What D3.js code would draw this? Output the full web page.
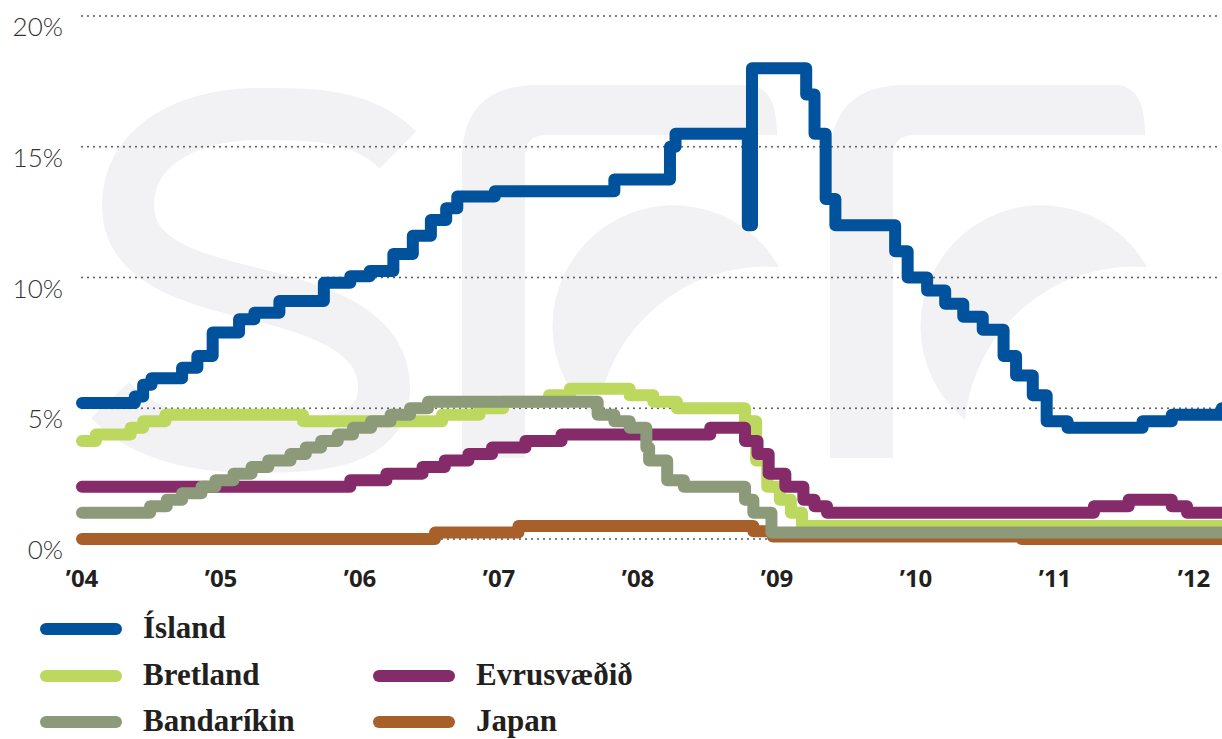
<!DOCTYPE html>
<html>
<head>
<meta charset="utf-8">
<script src="https://cdn.jsdelivr.net/npm/d3@7"></script>
<style>
  html, body { margin: 0; padding: 0; background: #fff; }
  svg { display: block; }
</style>
</head>
<body>
<svg id="chart" width="1222" height="739"></svg>
<script>
// ---------- DATA (decimal year of each rate change, rate in %) ----------
const endYear = 2012.25;

const islandDates = [2004.00, 2004.38, 2004.44, 2004.50, 2004.72, 2004.83, 2004.94, 2005.13, 2005.24, 2005.42, 2005.74, 2005.93, 2006.07, 2006.24, 2006.38, 2006.51, 2006.62, 2006.70, 2006.97, 2007.83, 2008.23, 2008.27, 2008.79, 2008.82, 2009.21, 2009.27, 2009.35, 2009.42, 2009.85, 2009.94, 2010.08, 2010.21, 2010.34, 2010.48, 2010.63, 2010.72, 2010.84, 2010.94, 2011.09, 2011.63, 2011.84, 2012.20];
const islandRates = [5.2, 5.45, 5.9, 6.15, 6.55, 7.0, 7.9, 8.4, 8.65, 9.1, 9.8, 10.05, 10.25, 10.9, 11.6, 12.2, 12.65, 13.1, 13.3, 13.75, 15.0, 15.5, 12.0, 18.0, 17.0, 15.5, 13.0, 12.0, 11.0, 10.0, 9.5, 9.0, 8.5, 8.0, 7.0, 6.25, 5.5, 4.5, 4.25, 4.5, 4.75, 5.0];

const bretlandDates = [2004.00, 2004.10, 2004.35, 2004.44, 2004.60, 2005.59, 2006.59, 2006.86, 2007.03, 2007.36, 2007.51, 2007.94, 2008.11, 2008.28, 2008.77, 2008.85, 2008.93, 2009.02, 2009.10, 2009.18];
const bretlandRates = [3.75, 4.0, 4.25, 4.5, 4.75, 4.5, 4.75, 5.0, 5.25, 5.5, 5.75, 5.5, 5.25, 5.0, 4.5, 3.0, 2.0, 1.5, 1.0, 0.5];

const evruDates = [2004.00, 2005.93, 2006.19, 2006.45, 2006.61, 2006.78, 2006.95, 2007.19, 2007.45, 2008.52, 2008.77, 2008.86, 2008.94, 2009.06, 2009.19, 2009.27, 2009.36, 2011.28, 2011.53, 2011.84, 2011.95];
const evruRates = [2.0, 2.25, 2.5, 2.75, 3.0, 3.25, 3.5, 3.75, 4.0, 4.25, 3.75, 3.25, 2.5, 2.0, 1.5, 1.25, 1.0, 1.25, 1.5, 1.25, 1.0];

const usaDates = [2004.00, 2004.49, 2004.61, 2004.72, 2004.86, 2004.96, 2005.09, 2005.22, 2005.34, 2005.50, 2005.61, 2005.72, 2005.84, 2005.95, 2006.08, 2006.22, 2006.36, 2006.49, 2007.71, 2007.83, 2007.94, 2008.06, 2008.08, 2008.21, 2008.33, 2008.77, 2008.83, 2008.96];
const usaRates = [1.0, 1.25, 1.5, 1.75, 2.0, 2.25, 2.5, 2.75, 3.0, 3.25, 3.5, 3.75, 4.0, 4.25, 4.5, 4.75, 5.0, 5.25, 4.75, 4.5, 4.25, 3.5, 3.0, 2.25, 2.0, 1.5, 1.0, 0.25];

const japanDates = [2004.00, 2006.54, 2007.14, 2008.83, 2008.97, 2010.76];
const japanRates = [0.0, 0.25, 0.5, 0.3, 0.1, 0.0];

const seriesNames = ["Ísland", "Bretland", "Evrusvæðið", "Bandaríkin", "Japan"];
const seriesColors = ["#00529c", "#bdd85e", "#852b69", "#8c9a7a", "#a8602a"];

const yearTicks = [2004, 2005, 2006, 2007, 2008, 2009, 2010, 2011, 2012];
const yearLabels = ["’04", "’05", "’06", "’07", "’08", "’09", "’10", "’11", "’12"];
const yTicks = [0, 5, 10, 15, 20];
const yTickLabels = ["0%", "5%", "10%", "15%", "20%"];

// ---------- CHART ----------
const svg = d3.select("#chart");
const W = 1222, H = 739;

const x = d3.scaleLinear().domain([2004, 2012]).range([82, 1194]);
const y = d3.scaleLinear().domain([0, 20]).range([539, 16]);

// watermark logo (very light)
const wm = svg.append("g").attr("fill", "#f2f2f4").attr("stroke", "none");
wm.append("path")
  .attr("d", "M 398 150 C 360 112, 305 114, 255 114 C 180 116, 128 150, 128 205 C 128 262, 190 278, 255 294 C 330 312, 384 335, 384 388 C 384 442, 320 447, 255 447 C 190 447, 140 432, 110 400")
  .attr("fill", "none").attr("stroke", "#f2f2f4").attr("stroke-width", 52);
function fShape(ox) {
  // stem + top arm
  wm.append("path").attr("d",
    `M ${ox} 458 L ${ox} 160 Q ${ox} 85 ${ox + 75} 85 L ${ox + 285} 85 Q ${ox + 315} 85 ${ox + 315} 135 L ${ox + 85} 135 Q ${ox + 63} 135 ${ox + 63} 157 L ${ox + 63} 458 Z`);
  // crescent
  wm.append("path").attr("d",
    `M ${ox + 317} 267 A 121 121 0 1 0 ${ox + 135} 420 A 170 170 0 0 1 ${ox + 317} 267 Z`);
}
fShape(462);
fShape(830);

// gridlines
svg.append("g").selectAll("line").data(yTicks).join("line")
  .attr("x1", 82).attr("x2", W)
  .attr("y1", d => y(d)).attr("y2", d => y(d))
  .attr("stroke", "#555").attr("stroke-width", 2)
  .attr("stroke-linecap", "round").attr("stroke-dasharray", "0 6");

// y labels
svg.append("g").selectAll("text").data(yTicks).join("text")
  .attr("x", 63).attr("y", d => y(d) + 20)
  .attr("text-anchor", "end")
  .attr("font-family", "Lato, 'Open Sans', sans-serif")
  .attr("font-weight", 300).attr("font-size", 26)
  .attr("fill", "#333")
  .text((d, i) => yTickLabels[i]);

// x labels
svg.append("g").selectAll("text").data(yearTicks).join("text")
  .attr("x", d => x(d)).attr("y", 587)
  .attr("text-anchor", "middle")
  .attr("font-family", "'Open Sans', Lato, sans-serif")
  .attr("font-weight", 700).attr("font-size", 24)
  .attr("fill", "#231f20")
  .text((d, i) => yearLabels[i]);

// lines
function toPoints(dates, rates) {
  const pts = dates.map((d, i) => [d, rates[i]]);
  pts.push([endYear, rates[rates.length - 1]]);
  return pts;
}
const allSeries = [
  toPoints(islandDates, islandRates),
  toPoints(bretlandDates, bretlandRates),
  toPoints(evruDates, evruRates),
  toPoints(usaDates, usaRates),
  toPoints(japanDates, japanRates)
];
const line = d3.line().x(d => x(d[0])).y(d => y(d[1])).curve(d3.curveStepAfter);

svg.append("clipPath").attr("id", "clip").append("rect")
  .attr("x", 0).attr("y", 0).attr("width", W).attr("height", 560);

const drawOrder = [4, 1, 2, 3, 0];
svg.append("g").attr("clip-path", "url(#clip)")
  .selectAll("path").data(drawOrder).join("path")
  .attr("d", i => line(allSeries[i]))
  .attr("fill", "none")
  .attr("stroke", i => seriesColors[i])
  .attr("stroke-width", 12)
  .attr("stroke-linejoin", "round")
  .attr("stroke-linecap", "round");

// legend
const legendPos = [
  { lx: 46, ly: 629 },
  { lx: 46, ly: 676 },
  { lx: 379, ly: 676 },
  { lx: 46, ly: 722 },
  { lx: 379, ly: 722 }
];
const lg = svg.append("g").selectAll("g").data(seriesNames).join("g");
lg.append("line")
  .attr("x1", (d, i) => legendPos[i].lx).attr("x2", (d, i) => legendPos[i].lx + 70)
  .attr("y1", (d, i) => legendPos[i].ly).attr("y2", (d, i) => legendPos[i].ly)
  .attr("stroke", (d, i) => seriesColors[i])
  .attr("stroke-width", 12).attr("stroke-linecap", "round");
lg.append("text")
  .attr("x", (d, i) => legendPos[i].lx + 97)
  .attr("y", (d, i) => legendPos[i].ly + 9)
  .attr("font-family", "'Liberation Serif', 'DejaVu Serif', serif")
  .attr("font-weight", 700).attr("font-size", 31)
  .attr("fill", "#231f20")
  .text(d => d);
</script>
</body>
</html>
